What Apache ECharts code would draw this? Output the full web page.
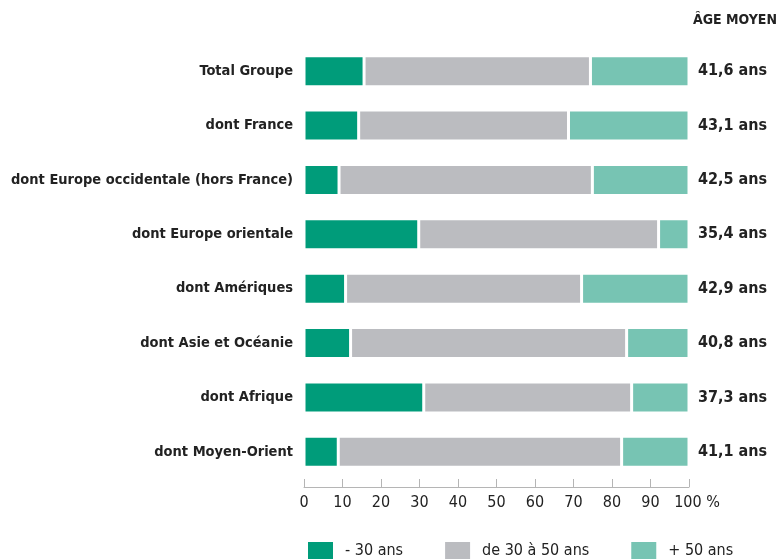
<!DOCTYPE html>
<html>
<head>
<meta charset="utf-8">
<script src="https://cdn.jsdelivr.net/npm/echarts@6/dist/echarts.min.js"></script>
<style>
  html, body { margin: 0; padding: 0; background: #fff; }
  #chart { width: 778px; height: 559px; }
</style>
</head>
<body>
<div id="chart"></div>
<script>
// Répartition des effectifs par tranche d'âge (%), par zone géographique
const categories = [
  'Total Groupe',
  'dont France',
  'dont Europe occidentale (hors France)',
  'dont Europe orientale',
  'dont Amériques',
  'dont Asie et Océanie',
  'dont Afrique',
  'dont Moyen-Orient'
];
const moins30 = [15.6, 14.2, 9.1, 29.8, 10.8, 12.1, 31.1, 8.9];
const de30a50 = [58.8, 54.5, 65.8, 62.3, 61.3, 71.7, 54.0, 73.6];
const plus50 = [25.6, 31.3, 25.1, 7.9, 27.9, 16.2, 14.9, 17.5];
const ageMoyen = ['41,6 ans', '43,1 ans', '42,5 ans', '35,4 ans', '42,9 ans', '40,8 ans', '37,3 ans', '41,1 ans'];
const seriesNames = ['- 30 ans', 'de 30 à 50 ans', '+ 50 ans'];
const xTicks = [0, 10, 20, 30, 40, 50, 60, 70, 80, 90, 100];

const FONT = '"Liberation Sans Narrow", "DejaVu Sans Condensed", "Liberation Sans", sans-serif';
const colors = ['#009c7a', '#bbbcc0', '#77c4b3'];

const chart = echarts.init(document.getElementById('chart'), null, { renderer: 'canvas' });

const barBase = {
  type: 'bar',
  stack: 'total',
  barWidth: 31,
  itemStyle: { borderColor: '#ffffff', borderWidth: 1.5 }
};

chart.setOption({
  animation: false,
  color: colors,
  title: {
    text: 'ÂGE MOYEN',
    right: -4,
    top: 8,
    textStyle: { fontFamily: FONT, fontWeight: 'bold', fontSize: 14, color: '#222' }
  },
  legend: {
    data: seriesNames,
    left: 306,
    top: 540,
    padding: 0,
    itemWidth: 27,
    itemHeight: 19,
    itemGap: 40,
    icon: 'rect',
    textStyle: { fontFamily: FONT, fontSize: 16, color: '#222', padding: [0, 0, 0, 6] }
  },
  grid: { left: 304, right: 89, top: 44, bottom: 80, containLabel: false, outerBoundsMode: 'none' },
  xAxis: {
    type: 'value',
    min: xTicks[0],
    max: xTicks[xTicks.length - 1],
    interval: 10,
    offset: 8,
    splitLine: { show: false },
    axisLine: { show: true, lineStyle: { color: '#b5b5b5', width: 1 } },
    axisTick: { show: true, inside: true, length: 8, lineStyle: { color: '#b5b5b5' } },
    axisLabel: {
      margin: 8,
      fontFamily: FONT,
      fontSize: 16,
      color: '#222',
      formatter: v => (v === 100 ? '{last|100 %}' : String(v)),
      rich: { last: { fontFamily: FONT, fontSize: 16, color: '#222', padding: [0, 0, 0, 16] } }
    }
  },
  yAxis: {
    type: 'category',
    data: categories,
    inverse: true,
    axisLine: { show: false },
    axisTick: { show: false },
    axisLabel: { margin: 11, fontFamily: FONT, fontWeight: 'bold', fontSize: 14.5, color: '#222' }
  },
  series: [
    Object.assign({}, barBase, { name: seriesNames[0], data: moins30 }),
    Object.assign({}, barBase, { name: seriesNames[1], data: de30a50 }),
    Object.assign({}, barBase, {
      name: seriesNames[2],
      data: plus50,
      label: {
        show: true,
        position: 'right',
        distance: 9,
        fontFamily: FONT,
        fontWeight: 'bold',
        fontSize: 16,
        color: '#222',
        formatter: p => ageMoyen[p.dataIndex]
      }
    })
  ]
});
</script>
</body>
</html>
